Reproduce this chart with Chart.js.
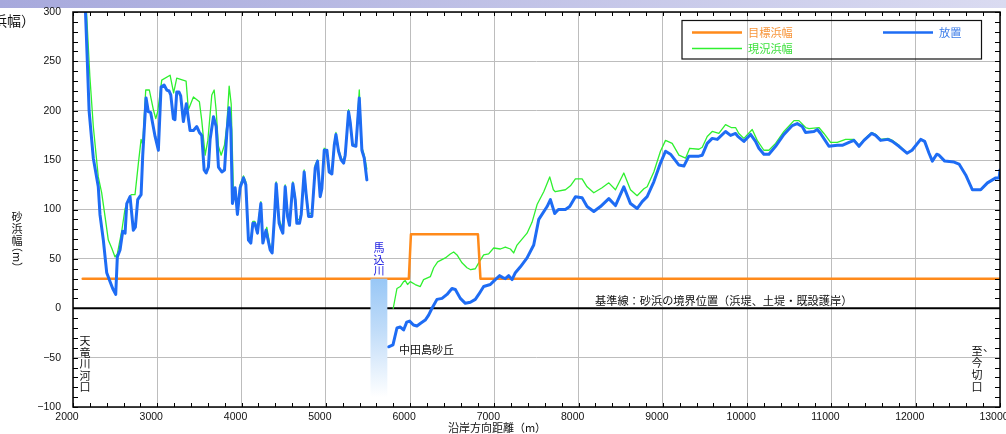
<!DOCTYPE html>
<html>
<head>
<meta charset="utf-8">
<script src="https://cdn.jsdelivr.net/npm/chart.js@4/dist/chart.umd.min.js"></script>
<style>
  html, body { margin: 0; padding: 0; background: #fff; }
  #wrap { width: 1006px; height: 434px; position: relative; overflow: hidden; }
  canvas { display: block; }
</style>
</head>
<body>
<div id="wrap"><canvas id="c" width="1006" height="434"></canvas></div>
<script>
// ---- Beach width along the coast (x: alongshore distance in m, y: beach width in m) ----

// 放置 (no action), west section from the Tenryu river mouth
const noActionWestX = [2135, 2170, 2191, 2241, 2300, 2320, 2360, 2400, 2439, 2471, 2507, 2526, 2558, 2590, 2618, 2638, 2677, 2716, 2740, 2768, 2808, 2827, 2867, 2894, 2922, 2974, 3013, 3045, 3081, 3113, 3140, 3160, 3191, 3210, 3231, 3258, 3278, 3310, 3345, 3389, 3429, 3469, 3500, 3528, 3556, 3580, 3607, 3627, 3667, 3699, 3726, 3766, 3798, 3825, 3853, 3873, 3892, 3924, 3951, 3983, 4023, 4051, 4082, 4110, 4134, 4158, 4189, 4229, 4253, 4290, 4340, 4363, 4391, 4411, 4446, 4470, 4490, 4518, 4546, 4569, 4609, 4637, 4656, 4688, 4708, 4743, 4767, 4795, 4834, 4874, 4902, 4933, 4953, 4981, 5013, 5040, 5072, 5100, 5120, 5151, 5183, 5211, 5230, 5270, 5290, 5318, 5357, 5397, 5428, 5456, 5487];
const noActionWestY = [330, 250, 200, 152, 123, 95, 69, 36, 27, 20, 14, 52, 59, 78, 76, 106, 113, 79, 82, 110, 115, 154, 213, 199, 198, 174, 160, 224, 226, 221, 220, 216, 192, 191, 219, 219, 215, 189, 207, 180, 180, 184, 178, 175, 140, 137, 143, 171, 194, 184, 143, 138, 140, 177, 203, 181, 106, 122, 95, 122, 132, 125, 69, 66, 86, 86, 76, 106, 66, 79, 59, 56, 93, 126, 86, 80, 76, 123, 93, 84, 126, 110, 86, 86, 95, 138, 115, 93, 93, 142, 149, 113, 121, 160, 160, 138, 136, 165, 176, 159, 150, 147, 155, 199, 188, 165, 164, 213, 160, 152, 130];

// 放置 (no action), east section from the Nakatajima dunes to Imagiri
const noActionEastX = [5745, 5797, 5844, 5884, 5923, 5960, 5994, 6040, 6081, 6129, 6180, 6220, 6260, 6319, 6379, 6438, 6497, 6537, 6596, 6656, 6715, 6774, 6814, 6873, 6952, 7011, 7063, 7100, 7130, 7170, 7210, 7249, 7309, 7388, 7467, 7527, 7626, 7665, 7716, 7760, 7843, 7894, 7962, 8041, 8100, 8180, 8259, 8358, 8437, 8536, 8615, 8694, 8754, 8813, 8892, 8971, 9031, 9090, 9190, 9249, 9308, 9427, 9467, 9526, 9585, 9645, 9743, 9803, 9862, 9889, 9961, 10040, 10099, 10139, 10198, 10258, 10337, 10436, 10535, 10594, 10653, 10693, 10792, 10832, 10871, 10970, 11069, 11128, 11208, 11267, 11327, 11386, 11477, 11524, 11584, 11670, 11722, 11801, 11896, 11956, 12059, 12106, 12158, 12197, 12249, 12277, 12344, 12455, 12514, 12593, 12672, 12771, 12851, 12950, 12990, 13000];
const noActionEastY = [-39, -37, -20, -19, -22, -14, -13, -17, -18, -15, -12, -7, 0, 9, 10, 14, 20, 19, 10, 5, 6, 9, 14, 22, 24, 29, 33, 31, 30, 33, 29, 36, 42, 51, 64, 90, 103, 110, 96, 100, 100, 103, 113, 112, 103, 98, 103, 111, 104, 123, 106, 101, 108, 113, 128, 147, 159, 156, 145, 144, 154, 154, 155, 167, 172, 171, 179, 175, 177, 174, 169, 176, 169, 162, 156, 156, 164, 176, 185, 187, 184, 178, 179, 181, 177, 164, 165, 165, 168, 170, 164, 170, 177, 175, 170, 171, 169, 164, 157, 160, 171, 169, 157, 149, 156, 155, 149, 148, 146, 135, 120, 120, 127, 132, 132, 140];

// 現況浜幅 (present beach width), west section
const presentWestX = [2148, 2200, 2241, 2300, 2340, 2380, 2419, 2459, 2499, 2526, 2578, 2618, 2689, 2736, 2776, 2808, 2827, 2863, 2906, 2954, 2982, 3005, 3053, 3152, 3194, 3231, 3342, 3369, 3429, 3500, 3528, 3568, 3600, 3647, 3675, 3699, 3726, 3758, 3797, 3825, 3853, 3877, 3904, 3924, 3951, 3983, 4023, 4051, 4082, 4110, 4134, 4158, 4189, 4229, 4253, 4300, 4340, 4363, 4391, 4411, 4446, 4470, 4490, 4518, 4546, 4569, 4609, 4637, 4656, 4688, 4708, 4743, 4767, 4795, 4834, 4874, 4902, 4933, 4953, 4981, 5013, 5040, 5072, 5100, 5120, 5151, 5183, 5211, 5230, 5270, 5290, 5318, 5357, 5397, 5428, 5456, 5487];
const presentWestY = [320, 235, 184, 133, 117, 93, 69, 61, 52, 55, 78, 101, 115, 115, 147, 171, 166, 221, 221, 201, 192, 199, 231, 236, 218, 233, 230, 201, 214, 209, 190, 155, 170, 216, 221, 200, 164, 155, 165, 185, 225, 207, 117, 120, 100, 125, 134, 128, 72, 70, 88, 88, 80, 108, 70, 82, 62, 60, 95, 128, 90, 84, 80, 125, 96, 88, 128, 113, 90, 90, 97, 140, 118, 96, 96, 145, 150, 116, 123, 162, 160, 140, 138, 167, 178, 161, 152, 149, 157, 201, 190, 166, 166, 221, 163, 155, 141];

// 現況浜幅 (present beach width), east section
const presentEastX = [5800, 5844, 5884, 5923, 5943, 5970, 6002, 6061, 6121, 6160, 6240, 6280, 6327, 6418, 6477, 6517, 6557, 6616, 6675, 6720, 6774, 6814, 6873, 6932, 6992, 7071, 7130, 7190, 7229, 7269, 7388, 7447, 7507, 7586, 7657, 7700, 7723, 7843, 7903, 7962, 8041, 8100, 8180, 8278, 8358, 8437, 8536, 8615, 8694, 8774, 8813, 8892, 8971, 9031, 9110, 9190, 9269, 9318, 9427, 9467, 9526, 9585, 9664, 9743, 9810, 9862, 9901, 9961, 10060, 10119, 10198, 10258, 10337, 10436, 10555, 10614, 10693, 10733, 10851, 10911, 10990, 11069, 11168, 11227, 11267, 11327, 11386, 11477, 11524, 11584, 11670, 11722, 11801, 11896, 11956, 12059, 12106, 12158, 12197, 12249, 12277, 12344, 12455, 12514, 12593, 12672, 12771, 12851, 12950, 12990];
const presentEastY = [0, 20, 22, 27, 28, 24, 27, 24, 22, 29, 32, 41, 47, 51, 55, 57, 54, 46, 41, 39, 40, 46, 54, 55, 61, 60, 62, 60, 56, 64, 76, 87, 105, 118, 133, 120, 118, 120, 124, 131, 131, 123, 117, 122, 127, 120, 137, 120, 114, 121, 123, 138, 159, 170, 167, 155, 152, 162, 161, 163, 174, 179, 177, 186, 183, 183, 177, 172, 181, 170, 160, 160, 167, 179, 190, 190, 183, 182, 183, 177, 168, 168, 171, 171, 171, 165, 171, 178, 176, 171, 172, 170, 165, 157, 160, 171, 169, 157, 149, 156, 155, 149, 148, 146, 135, 120, 120, 127, 132, 132];

// 目標浜幅 (target beach width)
const targetX = [2115, 5985, 6010, 6805, 6835, 13000];
const targetY = [30, 30, 75, 75, 30, 30];

// Axis ranges and tick labels
const xMin = 2000, xMax = 13000, xStep = 1000, xMinorStep = 200;
const yMin = -100, yMax = 300, yStep = 50, yMinorStep = 10;

// Mabase river (馬込川) mouth band: alongshore extent and width range
const riverX = [5530, 5730];
const riverY = [30, -90];

const seriesNames = ['目標浜幅', '現況浜幅', '放置'];
const COLORS = { target: '#ff8a1a', present: '#2ff02f', noAction: '#1e6cf4' };

function joinSegments(xa, ya, xb, yb) {
  const pts = xa.map((x, i) => ({ x, y: ya[i] }));
  pts.push({ x: (xa[xa.length - 1] + xb[0]) / 2, y: null });
  xb.forEach((x, i) => pts.push({ x, y: yb[i] }));
  return pts;
}

const JP = '"Noto Sans CJK JP", "Noto Sans", sans-serif';
const NUM = '"Liberation Sans", Arial, sans-serif';

function vText(ctx, chars, x, y0, step) {
  chars.forEach((ch, i) => ctx.fillText(ch, x, y0 + i * step));
}

const decor = {
  id: 'decor',
  beforeDraw(chart) {
    const ctx = chart.ctx;
    ctx.save();
    ctx.fillStyle = '#fff';
    ctx.fillRect(0, 0, chart.width, chart.height);
    const g = ctx.createLinearGradient(0, 0, chart.width, 0);
    g.addColorStop(0, '#a7a9dc');
    g.addColorStop(1, '#dadbf1');
    ctx.fillStyle = g;
    ctx.fillRect(0, 0, chart.width, 8);
    ctx.restore();
  },
  beforeDatasetsDraw(chart) {
    const { ctx, chartArea: a, scales: { y } } = chart;
    const y0 = y.getPixelForValue(0);
    ctx.save();
    ctx.strokeStyle = '#000';
    ctx.lineWidth = 2;
    ctx.beginPath();
    ctx.moveTo(a.left, y0);
    ctx.lineTo(a.right, y0);
    ctx.stroke();
    ctx.restore();
  },
  afterDatasetsDraw(chart) {
    const { ctx, chartArea: a, scales: { x, y } } = chart;
    ctx.save();

    // river band with a fading fill
    const rx0 = x.getPixelForValue(riverX[0]), rx1 = x.getPixelForValue(riverX[1]);
    const ry0 = y.getPixelForValue(riverY[0]), ry1 = y.getPixelForValue(riverY[1]);
    const rg = ctx.createLinearGradient(0, ry0, 0, ry1);
    rg.addColorStop(0, '#98c7f6');
    rg.addColorStop(0.45, '#c2ddf9');
    rg.addColorStop(1, '#ffffff');
    ctx.fillStyle = rg;
    ctx.fillRect(rx0, ry0, rx1 - rx0, ry1 - ry0);

    // minor tick marks on all four sides, pointing inward
    ctx.strokeStyle = '#000';
    ctx.lineWidth = 1;
    ctx.beginPath();
    for (let v = yMin; v <= yMax; v += yMinorStep) {
      const py = Math.round(y.getPixelForValue(v)) + 0.5;
      ctx.moveTo(a.left, py); ctx.lineTo(a.left + 5, py);
      ctx.moveTo(a.right, py); ctx.lineTo(a.right - 5, py);
    }
    for (let v = xMin; v <= xMax; v += xMinorStep) {
      const px = Math.round(x.getPixelForValue(v)) + 0.5;
      ctx.moveTo(px, a.bottom); ctx.lineTo(px, a.bottom - 4);
      ctx.moveTo(px, a.top); ctx.lineTo(px, a.top + 4);
    }
    ctx.stroke();

    // plot frame
    ctx.lineWidth = 1.5;
    ctx.strokeRect(a.left, a.top, a.right - a.left, a.bottom - a.top);

    // annotations
    ctx.textAlign = 'center';
    ctx.textBaseline = 'middle';
    ctx.font = '11px ' + JP;
    ctx.fillStyle = '#1a1ae0';
    vText(ctx, ['馬', '込', '川'], (rx0 + rx1) / 2, 248, 11.5);

    ctx.fillStyle = '#111';
    ctx.textAlign = 'left';
    ctx.fillText('中田島砂丘', 399, 350);
    ctx.font = '11.2px ' + JP;
    ctx.fillText('基準線：砂浜の境界位置（浜堤、土堤・既設護岸）', 595, 301);

    ctx.font = '11px ' + JP;
    ctx.textAlign = 'center';
    vText(ctx, ['天', '竜', '川', '河', '口'], 85, 341, 11.5);
    vText(ctx, ['至', '今', '切', '口'], 977, 351, 12);
    ctx.textAlign = 'left';
    ctx.fillText('、', 983, 347);

    // legend
    ctx.lineWidth = 1.2;
    ctx.strokeStyle = '#111';
    ctx.strokeRect(682, 20.5, 299.5, 38.5);
    const legendItems = [
      { label: seriesNames[0], color: COLORS.target, w: 2.5, lx: 692, ly: 32.5, tc: '#f7953a' },
      { label: seriesNames[1], color: COLORS.present, w: 1.3, lx: 692, ly: 48.5, tc: '#3ee03e' },
      { label: seriesNames[2], color: COLORS.noAction, w: 2.5, lx: 883, ly: 32.5, tc: '#3b7ce8' }
    ];
    ctx.font = '11.2px ' + JP;
    ctx.textBaseline = 'middle';
    legendItems.forEach(it => {
      ctx.strokeStyle = it.color;
      ctx.lineWidth = it.w;
      ctx.beginPath();
      ctx.moveTo(it.lx, it.ly); ctx.lineTo(it.lx + 50, it.ly);
      ctx.stroke();
      ctx.fillStyle = it.tc;
      ctx.fillText(it.label, it.lx + 56, it.ly);
    });

    // axis titles
    ctx.fillStyle = '#111';
    ctx.textAlign = 'center';
    ctx.font = '11px ' + JP;
    ctx.fillText('沿岸方向距離（m）', 497, 428);
    vText(ctx, ['砂', '浜', '幅'], 17, 217, 12);
    ctx.save();
    ctx.translate(17, 257);
    ctx.rotate(Math.PI / 2);
    ctx.fillText('（m）', 0, 0);
    ctx.restore();

    ctx.font = '14px ' + JP;
    ctx.textAlign = 'right';
    ctx.fillText('（砂浜幅）', 35, 21);

    ctx.restore();
  }
};

const ctx = document.getElementById('c').getContext('2d');
new Chart(ctx, {
  type: 'line',
  data: {
    datasets: [
      {
        label: seriesNames[2],
        data: joinSegments(noActionWestX, noActionWestY, noActionEastX, noActionEastY),
        borderColor: COLORS.noAction, borderWidth: 3, order: 1
      },
      {
        label: seriesNames[0],
        data: targetX.map((x, i) => ({ x, y: targetY[i] })),
        borderColor: COLORS.target, borderWidth: 2.5, order: 2
      },
      {
        label: seriesNames[1],
        data: joinSegments(presentWestX, presentWestY, presentEastX, presentEastY),
        borderColor: COLORS.present, borderWidth: 1.3, order: 3
      }
    ]
  },
  options: {
    responsive: false,
    animation: false,
    devicePixelRatio: 1,
    spanGaps: false,
    layout: { padding: { left: 0, right: 6, top: 12, bottom: 0 } },
    elements: {
      point: { radius: 0, hoverRadius: 0 },
      line: { tension: 0, fill: false, borderJoinStyle: 'round', borderCapStyle: 'round' }
    },
    plugins: { legend: { display: false }, tooltip: { enabled: false } },
    scales: {
      x: {
        type: 'linear', min: xMin, max: xMax,
        border: { display: false },
        grid: { color: '#bdbdbd', lineWidth: 1, drawTicks: false },
        ticks: {
          stepSize: xStep, autoSkip: false, maxRotation: 0, padding: 4, labelOffset: -6,
          color: '#111', font: { family: NUM, size: 10.5 },
          callback: v => String(v)
        },
        afterFit(s) { s.height = 27; s.paddingLeft = 0; s.paddingRight = 0; }
      },
      y: {
        type: 'linear', min: yMin, max: yMax,
        border: { display: false },
        grid: { color: '#bdbdbd', lineWidth: 1, drawTicks: false },
        ticks: {
          stepSize: yStep, autoSkip: false, padding: 12,
          color: '#111', font: { family: NUM, size: 10.5 },
          callback: v => (v < 0 ? '\u2212' + Math.abs(v) : String(v))
        },
        afterFit(s) { s.width = 73; s.paddingTop = 0; s.paddingBottom = 0; }
      }
    }
  },
  plugins: [decor]
});
</script>
</body>
</html>
